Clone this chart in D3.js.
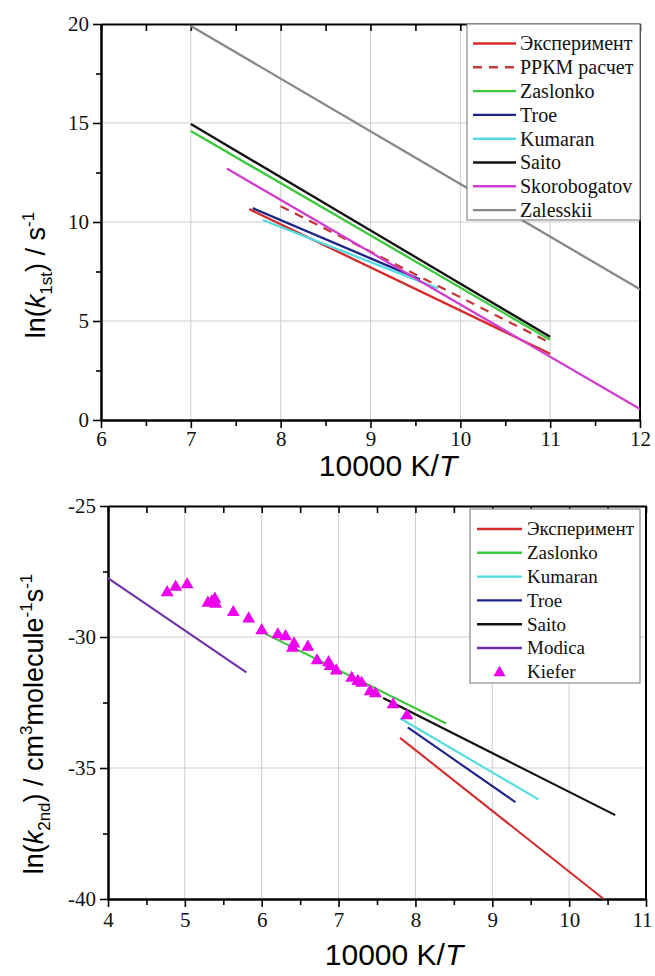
<!DOCTYPE html>
<html>
<head>
<meta charset="utf-8">
<script src="https://cdn.jsdelivr.net/npm/d3@7"></script>
<style>
  body { margin: 0; background: #fff; }
  svg { display: block; }
</style>
</head>
<body>
<div id="chart"></div>
<script>
// ---- top panel: ln(k1st) vs 10000 K/T ----
let xTicks1 = [6, 7, 8, 9, 10, 11, 12];
let yTicks1 = [0, 5, 10, 15, 20];
let names1  = ["Эксперимент", "РРКМ расчет", "Zaslonko", "Troe", "Kumaran", "Saito", "Skorobogatov", "Zalesskii"];
let lineX1  = [[7.65, 11], [8, 11], [7, 11], [7.69, 9.55], [7.8, 9.75], [7, 11], [7.4, 12], [7, 12]];
let lineY1  = [[10.65, 3.35], [10.8, 3.9], [14.6, 4.05], [10.7, 7.1], [10.1, 6.65], [14.95, 4.2], [12.7, 0.55], [19.9, 6.6]];

// ---- bottom panel: ln(k2nd) vs 10000 K/T ----
let xTicks2 = [4, 5, 6, 7, 8, 9, 10, 11];
let yTicks2 = [-40, -35, -30, -25];
let names2  = ["Эксперимент", "Zaslonko", "Kumaran", "Troe", "Saito", "Modica"];
let lineX2  = [[7.8, 10.45], [6.05, 8.4], [7.8, 9.6], [7.9, 9.3], [7.58, 10.6], [4, 5.8]];
let lineY2  = [[-33.85, -40], [-29.88, -33.3], [-33.1, -36.2], [-33.45, -36.3], [-32.33, -36.8], [-27.75, -31.35]];
let kieferX = [4.77, 4.88, 5.03, 5.30, 5.35, 5.39, 5.40, 5.63, 5.83, 6.00, 6.21, 6.31, 6.42, 6.40, 6.60,
               6.72, 6.87, 6.89, 6.97, 7.17, 7.25, 7.30, 7.41, 7.48, 7.71, 7.89];
let kieferY = [-28.30, -28.09, -28.00, -28.70, -28.65, -28.55, -28.74, -29.06, -29.30, -29.75, -29.91, -29.98, -30.26, -30.42, -30.38,
               -30.90, -30.97, -31.12, -31.29, -31.57, -31.69, -31.76, -32.08, -32.16, -32.58, -33.00];

let colors1 = ["#d42b2b", "#c43a3a", "#3cc83c", "#1c2486", "#52dce2", "#111111", "#d03ed0", "#888888"];
let dashes1 = [null, "9,7", null, null, null, null, null, null];
let colors2 = ["#d42b2b", "#3cc83c", "#52dce2", "#1c2486", "#111111", "#7030a8"];
let kieferColor = "#ee00ee";

let width = 655, height = 976;

let svg = d3.select("#chart")
  .append("svg")
    .attr("width", width)
    .attr("height", height);

let serif = "'Liberation Serif', 'Times New Roman', 'DejaVu Serif', serif";
let sans  = "'Liberation Sans', Arial, sans-serif";

function panel(o) {
  let x = d3.scaleLinear().domain(o.xDomain).range([o.left, o.right]);
  let y = d3.scaleLinear().domain(o.yDomain).range([o.bottom, o.top]);
  let g = svg.append("g");

  // grid
  g.append("g").selectAll("line")
    .data(o.xTicks.slice(1, -1))
    .enter().append("line")
      .attr("x1", d => x(d)).attr("x2", d => x(d))
      .attr("y1", o.top).attr("y2", o.bottom)
      .attr("stroke", "#cfcfcf").attr("stroke-width", 1);
  g.append("g").selectAll("line")
    .data(o.yTicks.slice(1, -1))
    .enter().append("line")
      .attr("x1", o.left).attr("x2", o.right)
      .attr("y1", d => y(d)).attr("y2", d => y(d))
      .attr("stroke", "#cfcfcf").attr("stroke-width", 1);

  // bottom axis (labels) + minor ticks
  g.append("g")
      .attr("transform", translate(0, o.bottom))
      .call(d3.axisBottom(x).tickValues(o.xTicks).tickSize(8).tickPadding(o.xPad).tickSizeOuter(0).tickFormat(d => String(d)));
  g.append("g")
      .attr("transform", translate(0, o.bottom))
      .call(d3.axisBottom(x).tickValues(o.xMinor).tickSize(6).tickSizeOuter(0).tickFormat(""));
  // top axis, ticks pointing in
  g.append("g")
      .attr("transform", translate(0, o.top))
      .call(d3.axisBottom(x).tickValues(o.xTicks.concat(o.xMinor)).tickSize(7).tickSizeOuter(0).tickFormat(""));
  // left axis
  g.append("g")
      .attr("transform", translate(o.left, 0))
      .call(d3.axisLeft(y).tickValues(o.yTicks).tickSize(8).tickPadding(4).tickSizeOuter(0).tickFormat(d => String(d)));
  g.append("g")
      .attr("transform", translate(o.left, 0))
      .call(d3.axisLeft(y).tickValues(o.yMinor).tickSize(5).tickSizeOuter(0).tickFormat(""));
  // right edge
  g.append("line")
      .attr("x1", o.right).attr("x2", o.right)
      .attr("y1", o.top).attr("y2", o.bottom)
      .attr("stroke", "#000").attr("stroke-width", 2);

  g.selectAll(".domain").attr("stroke-width", 2);
  g.selectAll(".tick line").attr("stroke-width", 1.6);
  g.selectAll(".tick text")
      .style("font-family", serif)
      .style("font-size", "21px")
      .attr("fill", "#111");

  // x title
  g.append("text")
      .attr("x", o.xTitleX).attr("y", o.xTitleY)
      .attr("text-anchor", "middle")
      .style("font-family", sans).style("font-size", "30px")
      .call(t => {
        t.append("tspan").text("10000 K/");
        t.append("tspan").style("font-style", "italic").text("T");
      });

  return {x: x, y: y, g: g};
}

function legend(g, o) {
  g.append("rect")
      .attr("x", o.x).attr("y", o.y)
      .attr("width", o.w).attr("height", o.h)
      .attr("fill", "#fff")
      .attr("stroke", "#8a8a8a").attr("stroke-width", 1.2);
  let item = g.selectAll(".leg" + o.id)
    .data(o.names)
    .enter().append("g")
      .attr("transform", (d, i) => translate(o.x, o.y0 + i * o.step));
  item.each(function(d, i) {
    let s = d3.select(this);
    if (o.marker && o.marker[i]) {
      s.append("path")
          .attr("d", d3.symbol(d3.symbolTriangle, 64)())
          .attr("transform", translate(o.lx0 + (o.lx1 - o.lx0) / 2, 1))
          .attr("fill", o.colors[i]);
    } else {
      s.append("line")
          .attr("x1", o.lx0).attr("x2", o.lx1)
          .attr("stroke", o.colors[i])
          .attr("stroke-width", 2.4)
          .attr("stroke-dasharray", o.dashes ? o.dashes[i] : null);
    }
    s.append("text")
        .attr("x", o.tx).attr("dy", "0.34em")
        .style("font-family", serif).style("font-size", o.fs + "px")
        .attr("fill", "#111")
        .text(d);
  });
}

// ---------- top panel ----------
let p1 = panel({
  xDomain: [6, 12], yDomain: [0, 20],
  left: 101, right: 640, top: 24, bottom: 420,
  xTicks: xTicks1, yTicks: yTicks1,
  xMinor: [6.5, 7.5, 8.5, 9.5, 10.5, 11.5], yMinor: [2.5, 7.5, 12.5, 17.5],
  xPad: 3, xTitleX: 388, xTitleY: 476
});

let line1 = d3.line().x(d => p1.x(d[0])).y(d => p1.y(d[1]));
p1.g.append("g").selectAll("path")
  .data(names1)
  .enter().append("path")
    .attr("d", (d, i) => line1(d3.zip(lineX1[i], lineY1[i])))
    .attr("fill", "none")
    .attr("stroke", (d, i) => colors1[i])
    .attr("stroke-width", 2.3)
    .attr("stroke-dasharray", (d, i) => dashes1[i]);

legend(p1.g, {
  id: 1, names: names1, colors: colors1, dashes: dashes1,
  x: 467, y: 24, w: 173, h: 196,
  y0: 43.5, step: 23.8, lx0: 6, lx1: 49, tx: 53, fs: 20
});

// y title, top
svg.append("text")
    .attr("transform", translate(45, 275) + " rotate(-90)")
    .attr("text-anchor", "middle")
    .style("font-family", sans).style("font-size", "27px")
    .call(t => {
      t.append("tspan").text("ln(");
      t.append("tspan").style("font-style", "italic").text("k");
      t.append("tspan").style("font-size", "17px").attr("dy", 7).text("1st");
      t.append("tspan").attr("dy", -7).text(") / s");
      t.append("tspan").style("font-size", "17px").attr("dy", -11).text("-1");
    });

// ---------- bottom panel ----------
let p2 = panel({
  xDomain: [4, 11], yDomain: [-40, -25],
  left: 108, right: 646, top: 506, bottom: 899,
  xTicks: xTicks2, yTicks: yTicks2,
  xMinor: [4.5, 5.5, 6.5, 7.5, 8.5, 9.5, 10.5], yMinor: [-37.5, -32.5, -27.5],
  xPad: 5, xTitleX: 394, xTitleY: 965
});
// last label sits at the page edge
p2.g.selectAll(".tick text").filter(d => d === 11).attr("dx", -4);

let line2 = d3.line().x(d => p2.x(d[0])).y(d => p2.y(d[1]));
p2.g.append("g").selectAll("path")
  .data(names2)
  .enter().append("path")
    .attr("d", (d, i) => line2(d3.zip(lineX2[i], lineY2[i])))
    .attr("fill", "none")
    .attr("stroke", (d, i) => colors2[i])
    .attr("stroke-width", 2.1);

p2.g.append("g").selectAll("path")
  .data(d3.zip(kieferX, kieferY))
  .enter().append("path")
    .attr("d", d3.symbol(d3.symbolTriangle, 72)())
    .attr("transform", d => translate(p2.x(d[0]), p2.y(d[1])))
    .attr("fill", kieferColor);

legend(p2.g, {
  id: 2, names: names2.concat(["Kiefer"]), colors: colors2.concat([kieferColor]),
  marker: [0, 0, 0, 0, 0, 0, 1],
  x: 470, y: 509, w: 170, h: 174,
  y0: 529, step: 23.8, lx0: 7, lx1: 52, tx: 57, fs: 19
});

// y title, bottom
svg.append("text")
    .attr("transform", translate(43, 724) + " rotate(-90)")
    .attr("text-anchor", "middle")
    .style("font-family", sans).style("font-size", "27px")
    .call(t => {
      t.append("tspan").text("ln(");
      t.append("tspan").style("font-style", "italic").text("k");
      t.append("tspan").style("font-size", "17px").attr("dy", 7).text("2nd");
      t.append("tspan").attr("dy", -7).text(") / cm");
      t.append("tspan").style("font-size", "17px").attr("dy", -11).text("3");
      t.append("tspan").attr("dy", 11).text("molecule");
      t.append("tspan").style("font-size", "17px").attr("dy", -11).text("-1");
      t.append("tspan").attr("dy", 11).text("s");
      t.append("tspan").style("font-size", "17px").attr("dy", -11).text("-1");
    });

function translate(x, y=0) {
  return "translate({x}, {y})"
          .replace("{x}", x)
          .replace("{y}", y);
}
</script>
</body>
</html>
